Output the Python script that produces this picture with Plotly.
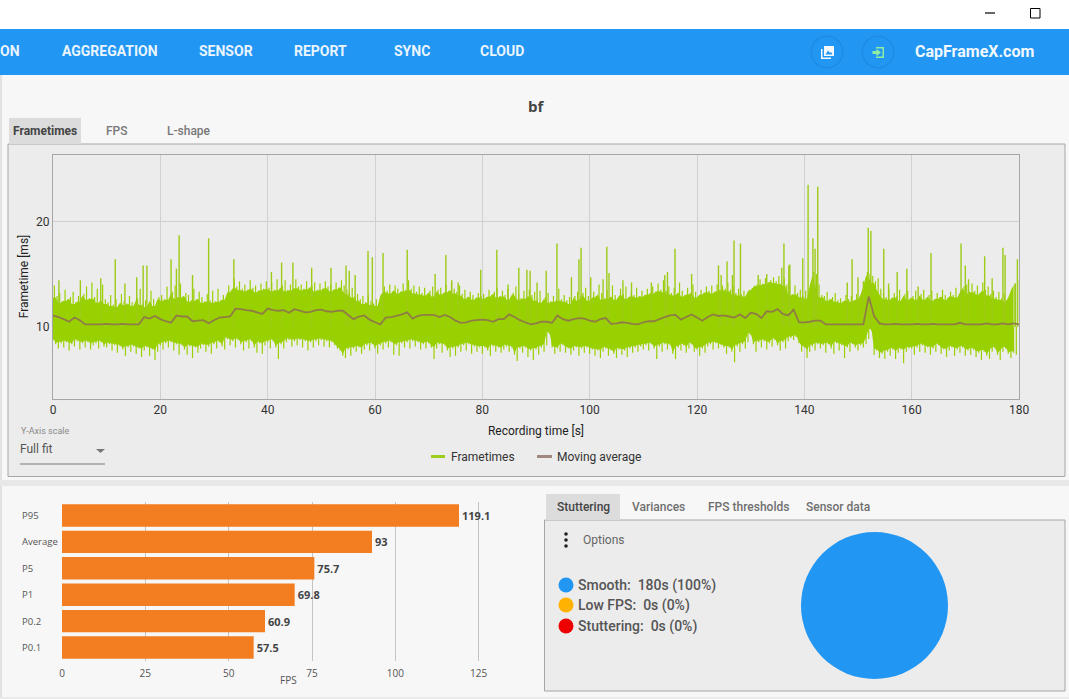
import plotly.graph_objects as go

W, H = 1069, 699
FONT = "Roboto"

# ---------- data ----------
frame_hi = [
 13.9,12.9,13.2,12.4,13.5,12.6,12.8,13.3,12.3,12.9,12.5,13.1,13.8,12.7,14.2,12.8,13.6,12.4,14.0,12.6,
 12.3,13.0,12.1,12.6,12.0,13.1,12.4,12.2,12.9,12.3,12.1,12.7,13.6,12.2,12.5,12.0,13.4,12.6,12.1,12.8,
 13.0,12.6,13.8,12.7,13.3,13.9,12.8,14.1,12.9,13.2,13.0,12.5,13.6,12.6,13.3,12.8,12.4,13.1,12.5,13.4,
 12.4,13.6,12.5,13.0,12.7,13.9,13.4,14.6,13.8,14.3,13.6,14.0,13.5,14.4,13.7,13.9,13.4,14.1,13.6,14.3,
 13.7,14.2,13.5,14.5,13.6,13.9,14.4,13.5,14.0,13.6,14.5,13.8,14.0,13.6,14.3,13.7,13.9,14.2,13.5,14.1,
 13.6,14.3,13.8,14.0,13.5,14.2,13.7,14.4,13.9,13.5,13.2,13.7,12.9,13.1,12.6,12.9,12.3,13.0,12.4,12.2,
 12.6,12.1,13.1,13.8,13.4,14.0,13.3,13.9,13.6,13.3,14.1,13.5,14.4,13.6,13.9,13.3,13.8,13.2,13.7,13.1,
 13.4,13.8,13.0,13.5,13.7,13.2,14.0,13.4,14.2,13.6,13.3,13.9,13.1,13.5,12.8,13.3,13.0,12.7,13.2,12.9,
 13.1,12.8,13.5,13.0,13.3,13.7,12.9,13.4,13.0,13.6,12.7,13.2,13.8,13.1,12.7,13.4,12.8,13.5,13.0,13.3,
 12.6,13.4,12.4,12.8,13.2,12.4,12.9,12.5,13.6,12.6,13.0,12.5,12.8,12.3,12.9,13.3,12.6,13.2,13.7,12.9,
 12.6,13.3,12.9,14.0,13.2,12.7,13.5,12.8,13.9,13.0,12.7,13.6,13.1,13.8,12.8,13.3,13.0,13.7,12.9,13.4,
 13.0,13.6,13.2,13.8,13.3,14.1,13.5,14.4,13.4,13.8,13.2,13.7,13.1,14.2,13.4,13.0,13.7,13.2,14.0,13.3,
 12.9,13.5,13.2,13.8,13.4,13.9,13.3,14.0,13.5,13.9,13.6,14.2,13.5,13.8,13.2,13.6,13.1,13.4,13.0,13.5,
 13.6,13.9,14.0,14.5,14.1,14.6,14.2,14.4,14.7,14.3,14.8,14.2,14.6,14.0,14.4,13.1,13.9,13.2,13.5,12.9,
 13.4,12.8,14.0,15.2,15.0,14.0,13.0,12.9,13.3,12.6,12.8,13.2,12.5,12.7,12.4,13.0,12.6,12.9,12.5,13.1,
 12.7,13.2,14.0,15.2,15.0,14.8,14.3,14.6,13.6,13.2,12.8,13.6,12.7,13.2,12.9,13.5,12.6,13.1,13.4,12.7,
 12.9,13.4,12.7,13.1,13.5,12.7,13.0,13.4,12.6,13.2,12.8,13.5,13.0,12.7,13.3,13.0,13.7,12.9,13.4,13.8,
 14.0,13.3,14.1,13.4,13.9,13.2,14.2,13.5,13.8,13.1,13.4,12.8,13.3,12.7,13.1,12.5,12.9,13.6,14.1,14.4,
]
frame_lo = [
 8.7,8.3,7.9,8.4,8.0,8.5,7.7,8.3,8.1,8.6,7.8,8.4,8.0,8.5,7.8,8.2,8.4,7.9,8.5,8.1,
 8.0,8.3,7.7,8.2,7.5,8.1,7.8,7.2,8.0,7.6,8.1,7.4,7.9,7.1,7.7,8.0,7.2,7.8,6.8,7.6,
 8.2,7.8,8.4,8.0,8.5,7.7,8.3,7.3,8.2,7.8,7.3,8.1,7.0,8.0,7.5,7.9,8.2,7.6,8.1,7.4,
 8.3,7.9,8.5,8.1,7.8,8.8,8.2,8.6,8.0,8.7,8.3,7.7,8.5,7.9,8.6,8.0,7.5,8.4,7.4,8.2,
 8.5,7.9,8.6,8.0,6.9,8.3,7.9,8.5,8.7,8.1,8.6,8.2,8.7,8.0,8.6,7.7,8.5,8.0,8.6,8.2,
 8.7,8.1,8.6,8.0,8.5,8.2,7.9,7.7,7.2,7.0,7.8,7.2,7.9,7.6,8.0,7.4,7.8,8.2,7.7,8.3,
 7.9,7.4,8.2,7.8,8.4,8.0,8.5,7.3,8.2,7.2,8.4,8.0,8.5,7.9,8.6,8.1,8.5,7.8,8.3,7.9,
 8.4,8.0,6.9,7.9,8.3,7.5,8.2,7.7,7.1,7.9,7.2,8.0,7.6,8.2,7.7,8.3,7.4,8.1,7.6,8.0,
 7.4,8.0,7.7,7.2,8.1,7.6,8.0,7.5,7.8,8.1,7.6,8.0,7.3,6.7,7.9,7.5,8.0,7.1,7.7,6.8,
 7.8,7.3,8.0,7.6,8.2,9.3,8.0,7.4,7.9,7.6,8.2,7.5,7.9,7.3,7.7,8.0,7.2,7.9,7.5,8.0,
 7.4,7.8,7.2,7.7,7.0,7.6,7.9,7.2,7.7,7.4,7.0,7.8,7.3,7.7,7.1,7.9,7.5,8.0,7.6,8.1,
 7.8,8.2,7.7,8.3,7.9,6.9,8.1,7.6,8.3,7.8,8.2,7.4,6.9,8.0,7.7,8.2,7.5,7.9,8.3,7.6,
 7.8,7.2,7.9,7.5,8.1,8.3,7.8,8.4,7.9,8.2,8.0,7.4,8.0,7.6,6.6,8.1,7.6,8.3,7.9,8.5,
 9.2,8.3,7.6,8.5,8.0,8.6,7.8,8.4,8.1,8.7,8.2,7.7,8.5,7.9,8.6,8.9,8.7,9.0,8.4,7.6,
 8.0,7.0,7.6,8.1,7.7,8.3,7.9,8.2,7.5,8.3,7.9,7.4,8.4,7.7,8.2,7.0,8.0,7.6,8.3,8.0,
 7.7,8.2,8.0,8.3,8.8,9.6,7.3,7.7,7.0,7.4,6.9,7.6,7.2,7.8,6.9,7.5,7.8,6.5,7.6,7.9,
 7.9,7.3,8.0,7.6,8.2,7.5,8.0,7.3,7.9,7.6,8.2,7.4,7.8,7.1,7.7,8.0,7.2,7.8,7.5,8.0,
 7.2,7.7,7.3,7.8,7.1,7.5,6.8,7.6,7.2,6.9,7.6,7.9,7.3,6.8,7.6,7.9,7.4,7.0,7.5,7.3,
]
spike_t = [1.1,5.1,8.9,11.6,13.4,15.6,16.8,17.5,22.0,23.0,23.5,26.0,29.0,33.7,40.7,42.6,44.7,
           48.2,51.8,54.6,55.2,56.3,58.7,59.5,61.5,66.0,71.2,73.2,74.3,75.5,79.7,82.7,84.8,86.8,88.3,88.9,90.2,
           91.9,93.9,96.6,98.0,98.4,100.2,102.5,103.2,103.6,106.2,107.8,111.5,114.0,114.5,115.9,119.0,124.0,124.5,
           125.6,126.6,126.9,128.1,131.4,133.0,135.8,136.2,137.1,137.3,139.7,140.7,141.6,142.0,142.5,
           148.0,148.9,150.0,151.0,151.9,152.4,154.8,155.7,157.3,159.1,161.2,163.6,169.2,170.0,170.6,173.6,175.0,177.0,177.4,179.3,179.7]
spike_v = [14.4,14.4,14.6,16.4,14.1,14.7,15.8,15.8,16.4,15.5,18.7,14.9,18.4,16.4,15.2,16.1,16.1,
           15.6,15.6,15.8,15.3,14.9,17.2,16.6,17.0,17.3,15.0,16.8,14.4,14.2,15.4,17.3,14.0,15.6,15.4,15.3,14.2,
           15.3,17.9,14.7,16.4,17.5,14.7,14.5,17.6,15.1,14.4,14.2,14.2,14.9,15.2,17.4,15.0,15.8,14.9,
           16.2,14.9,18.2,17.9,14.9,15.0,15.6,17.9,15.8,15.9,16.5,23.5,18.4,17.4,23.3,
           14.2,16.4,14.7,14.3,19.4,19.1,17.4,14.1,15.2,15.5,13.8,17.0,17.9,15.8,14.5,16.7,14.6,17.5,16.8,14.1,16.4]
moving_avg = [
 11.05,10.9,10.7,10.45,10.85,10.6,10.2,10.2,10.2,10.2,10.25,10.2,10.2,10.25,10.2,10.2,10.2,10.9,10.75,11.0,
 10.7,10.5,10.35,11.05,10.95,10.95,10.5,10.55,10.6,10.3,10.6,10.85,10.9,10.95,11.7,11.65,11.55,11.5,11.35,11.2,
 11.7,11.55,11.5,11.55,11.3,11.65,11.5,11.35,11.4,11.55,11.6,11.45,11.4,11.5,11.5,11.1,10.7,10.95,11.05,10.65,
 10.4,10.2,10.85,10.9,11.0,11.15,11.35,10.75,11.0,11.1,11.1,11.1,10.9,11.1,10.9,10.55,10.35,10.4,10.55,10.6,
 10.65,10.6,10.45,10.7,10.7,11.15,10.9,10.6,10.4,10.2,10.3,10.45,10.45,10.35,11.05,10.7,10.55,10.7,10.8,10.75,
 10.55,10.45,10.7,10.8,10.25,10.3,10.4,10.35,10.25,10.2,10.4,10.5,10.5,10.7,10.9,11.05,11.1,10.65,10.9,11.15,
 10.85,10.55,10.9,11.15,11.0,11.05,10.95,10.85,11.15,10.8,11.3,11.2,10.8,11.45,11.4,11.65,11.2,11.05,11.6,10.4,
 10.4,10.45,10.55,10.55,10.2,10.2,10.2,10.2,10.2,10.2,10.2,10.2,12.85,11.0,10.3,10.2,10.2,10.25,10.2,10.2,
 10.2,10.25,10.2,10.2,10.25,10.2,10.2,10.2,10.2,10.35,10.2,10.2,10.2,10.2,10.3,10.2,10.2,10.3,10.2,10.3,10.2,
]
frame_series_names = ["Frametimes", "Moving average"]
frame_ticks_x = [0, 20, 40, 60, 80, 100, 120, 140, 160, 180]
frame_ticks_y = [10, 20]

fps_labels = ["P0.1", "P0.2", "P1", "P5", "Average", "P95"]
fps_values = [57.5, 60.9, 69.8, 75.7, 93, 119.1]
fps_ticks = [0, 25, 50, 75, 100, 125]

stutter_labels = ["Smooth", "Low FPS", "Stuttering"]
stutter_seconds = [180, 0, 0]
stutter_percent = [100, 0, 0]

nav_labels = ["ON", "AGGREGATION", "SENSOR", "REPORT", "SYNC", "CLOUD"]
top_tabs = ["Frametimes", "FPS", "L-shape"]
lower_tabs = ["Stuttering", "Variances", "FPS thresholds", "Sensor data"]

# ---------- colours ----------
BLUE = "#2196F3"
GREEN = "#99D100"
BROWN = "#8F7D45"
ORANGE = "#F37E21"
PANEL = "#ECECEC"
PAGE = "#F7F7F7"
BORDER = "#A6A6A6"
GRID = "#D0D0D0"

# ---------- pixel helpers for the page chrome ----------
def fx(p): return p / W
def fy(p): return 1 - p / H

shapes, notes = [], []

def rect(x0, y0, x1, y1, fill, line=None, layer="below"):
    shapes.append(dict(type="rect", xref="paper", yref="paper", x0=fx(x0), x1=fx(x1), y0=fy(y0), y1=fy(y1),
                       fillcolor=fill, line=dict(color=line or fill, width=1 if line else 0), layer=layer))

def seg(x0, y0, x1, y1, color, width=1, layer="above"):
    shapes.append(dict(type="line", xref="paper", yref="paper", x0=fx(x0), x1=fx(x1), y0=fy(y0), y1=fy(y1),
                       line=dict(color=color, width=width), layer=layer))

def circ(cx, cy, r, fill, line=None, width=0, layer="above"):
    shapes.append(dict(type="circle", xref="paper", yref="paper", x0=fx(cx - r), x1=fx(cx + r),
                       y0=fy(cy + r), y1=fy(cy - r), fillcolor=fill,
                       line=dict(color=line or fill, width=width), layer=layer))

def poly(points, fill, layer="above"):
    d = "M " + " L ".join(f"{fx(a):.5f},{fy(b):.5f}" for a, b in points) + " Z"
    shapes.append(dict(type="path", xref="paper", yref="paper", path=d, fillcolor=fill,
                       line=dict(width=0), layer=layer))

def text(x, y, s, size=12, color="#444444", family=FONT, weight=400, anchor="left"):
    notes.append(dict(xref="paper", yref="paper", x=fx(x), y=fy(y), text=s, borderpad=0, borderwidth=0,
                      showarrow=False, xanchor=anchor, yanchor="middle",
                      font=dict(size=size, color=color, family=family, weight=weight)))

# page layout
rect(0, 75, W, H, PAGE)
rect(0, 0, W, 29, "#FFFFFF")
rect(0, 29, W, 75, BLUE)
rect(0, 75, 2, H, "#E2E2E2")
rect(0, 480, W, 486, "#E8E8E8")
rect(0, 697, W, H, "#EAEAEA")
rect(8, 144, 1065, 476.5, PANEL, BORDER)
rect(544.5, 520, 1065, 691, PANEL, BORDER)
rect(9, 118, 81, 144, "#DCDCDC")
rect(546, 494, 620, 520, "#DCDCDC")

# window buttons
seg(985, 13, 995, 13, "#000000", 1.2)
rect(1030.5, 8.5, 1040, 18, "rgba(0,0,0,0)", "#000000", layer="above")

# nav bar
for label, px in zip(nav_labels, [0, 62, 199, 294, 394, 480]):
    text(px, 51, label, size=14, color="#E9F4FE", weight=700)
text(915, 52, "CapFrameX.com", size=16, color="#F1F8FE", weight=700)
circ(827, 52, 16.5, "#1E8CE4")
circ(827, 52, 15, BLUE)
circ(878, 52, 16.5, "#1E8CE4")
circ(878, 52, 15, BLUE)
rect(824, 46, 834, 56, "#F4F9FE", layer="above")
poly([(825.5, 54.5), (828, 50.5), (830, 53), (831, 52), (832.5, 54.5)], BLUE)
rect(821, 49, 822.5, 59, "#F4F9FE", layer="above")
rect(821, 57.5, 831, 59, "#F4F9FE", layer="above")
GR = "#93EDA0"
rect(876, 47, 884, 48.5, GR, layer="above")
rect(882.5, 47, 884, 58, GR, layer="above")
rect(876, 56.5, 884, 58, GR, layer="above")
poly([(872.5, 51), (876.5, 51), (876.5, 48.8), (881, 52.5), (876.5, 56.2), (876.5, 54), (872.5, 54)], GR)

# title and tabs
text(536, 106, "bf", size=15, color="#444444", family="Open Sans", weight=700, anchor="center")
text(45, 131, top_tabs[0], size=12, color="#444444", weight=700, anchor="center")
text(117, 131, top_tabs[1], size=12, color="#777777", weight=500, anchor="center")
text(189, 131, top_tabs[2], size=12, color="#777777", weight=500, anchor="center")
for label, cx, col in zip(lower_tabs, [583, 658, 748, 838], ["#444444", "#6F6F6F", "#6F6F6F", "#6F6F6F"]):
    text(cx, 507, label, size=12, color=col, weight=500, anchor="center")

# y-axis scale combo
text(21, 431, "Y-Axis scale", size=9, color="#8A8A8A")
text(20, 449, "Full fit", size=12, color="#555555")
poly([(96, 449), (105, 449), (100.5, 453)], "#777777")
seg(20, 464, 105, 464, "#7A7A7A", 1)

# frametime legend (series names come from the data lists)
seg(431, 456.5, 445, 456.5, "#9CCC1C", 3)
seg(537, 456.5, 552, 456.5, "#A1887F", 3)
text(451, 457, frame_series_names[0], size=12, color="#333333")
text(557, 457, frame_series_names[1], size=12, color="#333333")

# options block
text(583, 540, "Options", size=12, color="#666666")
for yy in (534, 540, 546):
    circ(566, yy, 1.8, "#222222")
for lab, sec, pct, col, yy in zip(stutter_labels, stutter_seconds, stutter_percent,
                                  [BLUE, "#FFB300", "#EE0000"], [585, 605, 626]):
    circ(566, yy, 7.5, col)
    text(577.5, yy, f"{lab}:  {sec}s ({pct}%)", size=14, color="#555555", weight=500)

# bar chart annotations
for lab in fps_labels:
    notes.append(dict(xref="paper", yref="y2", x=fx(22), y=lab, text=lab, showarrow=False, xanchor="left",
                      yanchor="middle", borderpad=0, borderwidth=0,
                      font=dict(size=9.5, color="#555555", family="Open Sans")))
text(288.5, 680, "FPS", size=10, color="#555555", family="Open Sans", anchor="center")

# ---------- traces ----------
# each read-off sample is one vertical stroke from the middle of the band to its tip
frame_t, frame_v = [], []
for i, (lo, hi) in enumerate(zip(frame_lo, frame_hi)):
    frame_t += [i * 0.5, i * 0.5, None, i * 0.5 + 0.25, i * 0.5 + 0.25, None]
    frame_v += [10, lo, None, 10, hi, None]

# solid core of the band: the valleys between neighbouring read-off teeth
band_t = [i * 0.5 for i in range(len(frame_hi) - 1)]
band_top = [min(a, b) - 0.15 for a, b in zip(frame_hi, frame_hi[1:])]
band_bot = [max(a, b) + 0.15 for a, b in zip(frame_lo, frame_lo[1:])]

spike_x, spike_y = [], []
for t, v in zip(spike_t, spike_v):
    spike_x += [t, t, None]
    spike_y += [10, v, None]

fig = go.Figure()
fig.add_trace(go.Scatter(x=band_t + band_t[::-1], y=band_top + band_bot[::-1], mode="lines", fill="toself",
                         fillcolor=GREEN, line=dict(color=GREEN, width=0, simplify=False),
                         hoverinfo="skip", xaxis="x", yaxis="y"))
fig.add_trace(go.Scatter(x=frame_t, y=frame_v, mode="lines", connectgaps=False,
                         name=frame_series_names[0], line=dict(color=GREEN, width=1.2, simplify=False),
                         xaxis="x", yaxis="y"))
fig.add_trace(go.Scatter(x=spike_x, y=spike_y, mode="lines", hoverinfo="skip",
                         line=dict(color="#9DCB16", width=1.4, simplify=False), xaxis="x", yaxis="y"))
fig.add_trace(go.Scatter(x=list(range(len(moving_avg))), y=moving_avg, mode="lines",
                         name=frame_series_names[1], line=dict(color=BROWN, width=1.8, simplify=False),
                         xaxis="x", yaxis="y"))
fig.add_trace(go.Bar(y=fps_labels, x=fps_values, orientation="h",
                     marker=dict(color=ORANGE, line=dict(color="rgba(243,126,33,0)", width=4)),
                     text=[str(v) for v in fps_values], textposition="outside", cliponaxis=False,
                     textfont=dict(size=11, color="#444444", family="Open Sans", weight="bold"),
                     xaxis="x2", yaxis="y2", showlegend=False))
fig.add_trace(go.Pie(labels=stutter_labels, values=stutter_seconds, sort=False, textinfo="none",
                     marker=dict(colors=[BLUE, "#FFB300", "#EE0000"], line=dict(width=0)),
                     domain=dict(x=[fx(874.5 - 73.5), fx(874.5 + 73.5)], y=[fy(679), fy(532)]),
                     showlegend=False))

fig.update_layout(
    width=W, height=H, autosize=False, margin=dict(l=0, r=0, t=0, b=0, autoexpand=False),
    paper_bgcolor=PAGE, plot_bgcolor="rgba(0,0,0,0)", showlegend=False,
    shapes=shapes, annotations=notes, bargap=0.15,
    font=dict(family=FONT, size=12, color="#333333"),
    xaxis=dict(domain=[fx(53), fx(1019)], range=[0, 180], tickvals=frame_ticks_x, ticks="",
               showgrid=True, gridcolor=GRID, gridwidth=1, zeroline=False, showline=True, mirror=True,
               linecolor=BORDER, linewidth=1, tickfont=dict(size=12, color="#333333"), anchor="y",
               automargin=False,
               title=dict(text="Recording time [s]", standoff=10, font=dict(size=12, color="#222222"))),
    yaxis=dict(domain=[fy(398.5), fy(154.5)], range=[3.14, 26.38], tickvals=frame_ticks_y, ticks="",
               showgrid=True, gridcolor=GRID, gridwidth=1, zeroline=False, showline=True, mirror=True,
               linecolor=BORDER, linewidth=1, tickfont=dict(size=12, color="#333333"), anchor="x",
               automargin=False,
               title=dict(text="Frametime [ms]", standoff=4, font=dict(size=12, color="#222222"))),
    xaxis2=dict(domain=[fx(62), fx(514)], range=[0, 135.6], tickvals=fps_ticks, ticks="",
                showgrid=True, gridcolor="#C4C4C4", gridwidth=1, zeroline=False, showline=False,
                ticklabelstandoff=5,
                tickfont=dict(size=10, color="#555555", family="Open Sans"), anchor="y2", automargin=False),
    yaxis2=dict(domain=[fy(660.7), fy(502.3)], type="category", categoryorder="array", categoryarray=fps_labels,
                showticklabels=False, showgrid=False, zeroline=False, showline=False, anchor="x2", automargin=False),
)

fig.write_html("out.html", config=dict(displayModeBar=False),
               post_script="document.body.style.margin='0';document.documentElement.style.overflow='hidden';")
